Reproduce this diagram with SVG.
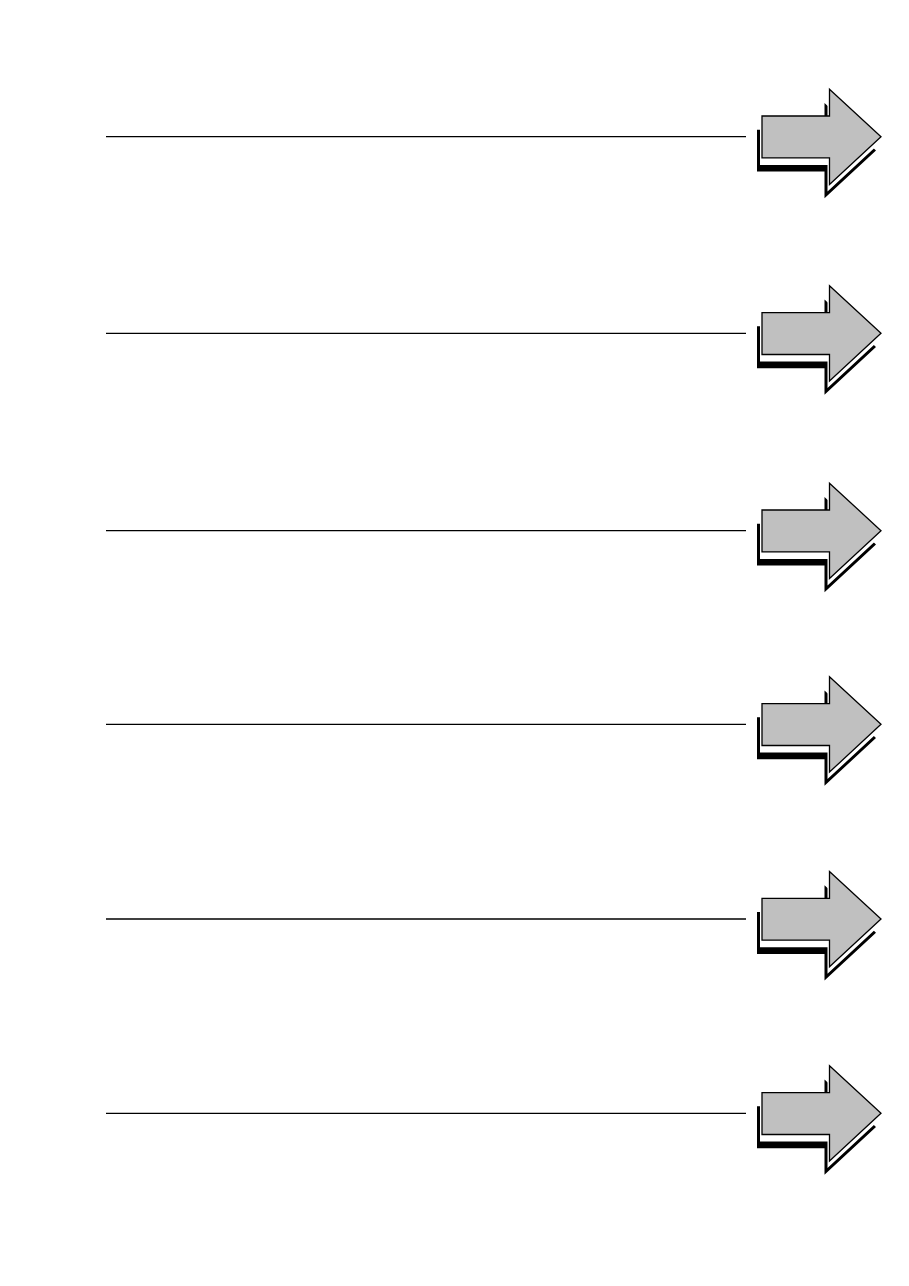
<svg xmlns="http://www.w3.org/2000/svg" xmlns:xlink="http://www.w3.org/1999/xlink" width="909" height="1286" viewBox="0 0 909 1286">
  <style>
    .rule { stroke: #000; stroke-width: 1.3; fill: none; }
    .shadow { fill: #000; stroke: none; }
    .gap { fill: #fff; stroke: none; }
    .face { fill: #c0c0c0; stroke: #000; stroke-width: 1.3; stroke-linejoin: miter; }
  </style>
  <defs>
    <path id="arrowShape" d="M762,-20.7 H829.5 V-47.5 L881,0 L829.5,47.8 V21.2 H762 Z"/>
    <g id="arrow3d">
      <use xlink:href="#arrowShape" href="#arrowShape" class="shadow" transform="translate(-5,13.7)"/>
      <use xlink:href="#arrowShape" href="#arrowShape" class="gap" transform="translate(-2,7)"/>
      <use xlink:href="#arrowShape" href="#arrowShape" class="face"/>
    </g>
  </defs>
  <rect width="909" height="1286" fill="#fff"/>
  <g id="connectors">
    <line class="rule" x1="106" y1="136.7" x2="746" y2="136.7"/>
    <line class="rule" x1="106" y1="333.3" x2="746" y2="333.3"/>
    <line class="rule" x1="106" y1="530.7" x2="746" y2="530.7"/>
    <line class="rule" x1="106" y1="724.3" x2="746" y2="724.3"/>
    <line class="rule" x1="106" y1="919" x2="746" y2="919"/>
    <line class="rule" x1="106" y1="1113.3" x2="746" y2="1113.3"/>
  </g>
  <g id="arrow1"><use xlink:href="#arrow3d" href="#arrow3d" transform="translate(0,136.7)"/></g>
  <g id="arrow2"><use xlink:href="#arrow3d" href="#arrow3d" transform="translate(0,333.3)"/></g>
  <g id="arrow3"><use xlink:href="#arrow3d" href="#arrow3d" transform="translate(0,530.7)"/></g>
  <g id="arrow4"><use xlink:href="#arrow3d" href="#arrow3d" transform="translate(0,724.3)"/></g>
  <g id="arrow5"><use xlink:href="#arrow3d" href="#arrow3d" transform="translate(0,919)"/></g>
  <g id="arrow6"><use xlink:href="#arrow3d" href="#arrow3d" transform="translate(0,1113.3)"/></g>
</svg>
